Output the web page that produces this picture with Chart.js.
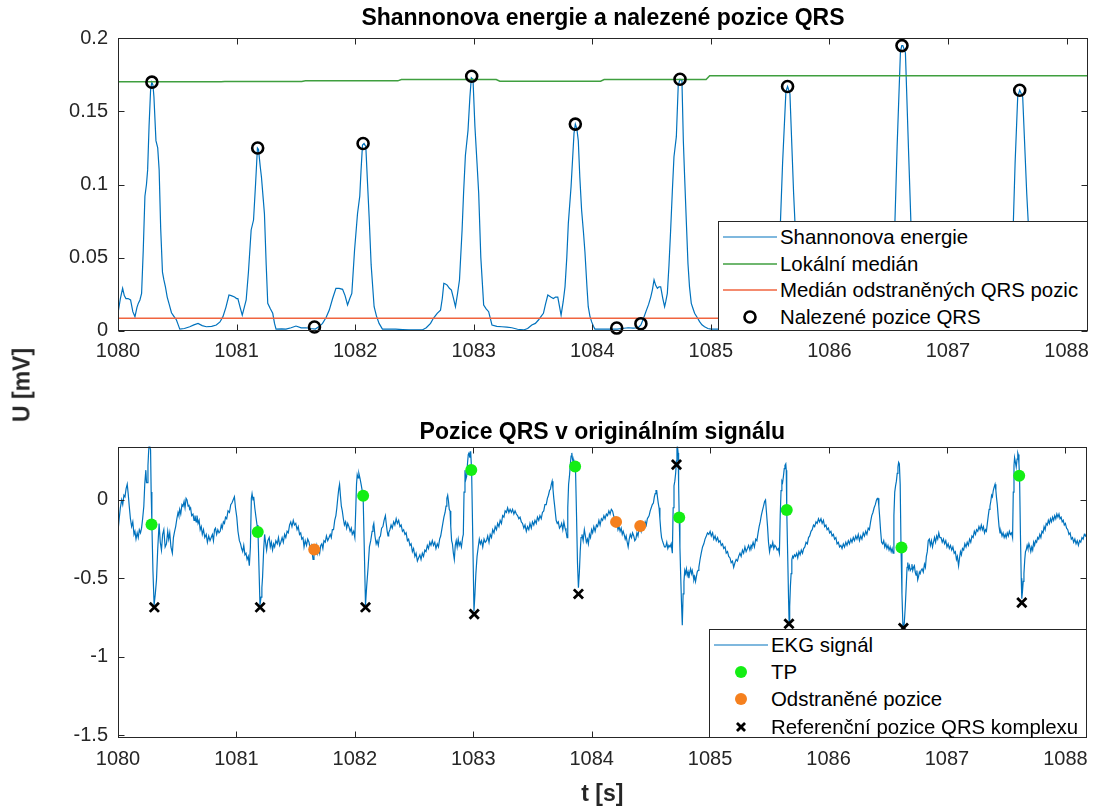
<!DOCTYPE html>
<html>
<head>
<meta charset="utf-8">
<script src="https://cdn.jsdelivr.net/npm/chart.js@4.4.1/dist/chart.umd.min.js"></script>
<style>
html,body{margin:0;padding:0;background:#fff;}
body{width:1096px;height:809px;position:relative;overflow:hidden;font-family:"Liberation Sans",Arial,sans-serif;}
#c1{position:absolute;left:0;top:0;}
#c2{position:absolute;left:0;top:375px;}
.ylab{position:absolute;left:22px;top:385px;transform:translate(-50%,-50%) rotate(-90deg);font-weight:bold;font-size:23px;color:#262626;white-space:nowrap;}
.legend{position:absolute;background:#fff;border:1px solid #262626;box-sizing:border-box;}
.legend .row{position:absolute;left:0;height:26px;width:100%;}
.legend svg{position:absolute;left:0;top:0;}
.legend span{position:absolute;left:61px;top:0;line-height:26px;font-size:20.4px;color:#000;white-space:nowrap;}
</style>
</head>
<body>
<canvas id="c1" width="1096" height="375"></canvas>
<canvas id="c2" width="1096" height="434"></canvas>
<div class="ylab">U [mV]</div>
<script>
// ---------------- DATA ----------------
const xTickValues = [1080,1081,1082,1083,1084,1085,1086,1087,1088];

// Shannon energy [time, value]
const shannonEnergy = [
[1080.000,0.012],[1080.020,0.022],[1080.039,0.029],[1080.053,0.024],[1080.067,0.022],[1080.085,0.022],[1080.106,0.021],[1080.125,0.013],[1080.143,0.0096],[1080.160,0.016],
[1080.171,0.0187],[1080.185,0.021],[1080.199,0.0255],[1080.213,0.055],[1080.227,0.092],[1080.240,0.100],[1080.250,0.110],[1080.262,0.140],[1080.275,0.165],[1080.285,0.170],
[1080.295,0.168],[1080.303,0.160],[1080.320,0.130],[1080.335,0.125],[1080.347,0.110],[1080.360,0.070],[1080.375,0.040],[1080.387,0.0347],[1080.400,0.030],[1080.415,0.023],
[1080.432,0.018],[1080.451,0.0123],[1080.470,0.010],[1080.493,0.0073],[1080.508,0.004],[1080.521,0.0011],[1080.560,0.0015],[1080.605,0.0027],[1080.640,0.004],[1080.675,0.005],
[1080.710,0.0035],[1080.745,0.0027],[1080.790,0.003],[1080.829,0.0039],[1080.860,0.006],[1080.885,0.0096],[1080.910,0.016],[1080.936,0.0244],[1080.955,0.024],[1080.983,0.023],
[1081.000,0.022],[1081.011,0.022],[1081.030,0.016],[1081.048,0.0107],[1081.065,0.016],[1081.081,0.021],[1081.100,0.040],[1081.123,0.0689],[1081.143,0.0757],[1081.160,0.100],
[1081.176,0.125],[1081.185,0.124],[1081.200,0.112],[1081.210,0.105],[1081.225,0.090],[1081.235,0.080],[1081.250,0.045],[1081.263,0.0187],[1081.285,0.015],[1081.305,0.0119],
[1081.320,0.005],[1081.333,0.0011],[1081.380,0.0012],[1081.417,0.0011],[1081.460,0.002],[1081.501,0.0032],[1081.545,0.002],[1081.585,0.002],[1081.625,0.0015],[1081.664,0.0011],
[1081.700,0.003],[1081.725,0.005],[1081.755,0.009],[1081.782,0.0141],[1081.810,0.022],[1081.838,0.029],[1081.865,0.029],[1081.894,0.0283],[1081.915,0.024],[1081.936,0.0176],
[1081.955,0.022],[1081.972,0.0255],[1081.995,0.055],[1082.020,0.080],[1082.039,0.092],[1082.050,0.110],[1082.062,0.127],[1082.075,0.128],[1082.090,0.126],[1082.105,0.100],
[1082.118,0.078],[1082.135,0.045],[1082.160,0.0164],[1082.180,0.010],[1082.202,0.005],[1082.230,0.0011],[1082.290,0.0011],[1082.342,0.0011],[1082.400,0.0008],[1082.454,0.0005],
[1082.510,0.0005],[1082.566,0.0005],[1082.600,0.002],[1082.636,0.005],[1082.660,0.0085],[1082.692,0.0119],[1082.720,0.0141],[1082.735,0.022],[1082.748,0.0324],[1082.762,0.032],
[1082.776,0.0312],[1082.795,0.029],[1082.812,0.0278],[1082.830,0.022],[1082.846,0.0164],[1082.863,0.025],[1082.880,0.0347],[1082.902,0.0689],[1082.915,0.095],[1082.930,0.120],
[1082.952,0.137],[1082.968,0.160],[1082.980,0.173],[1082.994,0.172],[1083.010,0.140],[1083.028,0.1145],[1083.042,0.094],[1083.060,0.050],[1083.084,0.0176],[1083.105,0.015],
[1083.126,0.013],[1083.154,0.0039],[1083.195,0.003],[1083.238,0.0027],[1083.280,0.0024],[1083.322,0.002],[1083.370,0.001],[1083.420,0.0005],[1083.455,0.0015],[1083.490,0.0039],
[1083.520,0.005],[1083.546,0.0073],[1083.570,0.010],[1083.588,0.0119],[1083.605,0.018],[1083.625,0.0244],[1083.650,0.023],[1083.672,0.022],[1083.690,0.023],[1083.709,0.023],
[1083.725,0.016],[1083.737,0.0107],[1083.755,0.020],[1083.770,0.030],[1083.785,0.050],[1083.798,0.0734],[1083.821,0.0985],[1083.846,0.135],[1083.857,0.1413],[1083.870,0.138],
[1083.882,0.130],[1083.895,0.105],[1083.910,0.0825],[1083.925,0.068],[1083.938,0.054],[1083.955,0.030],[1083.966,0.0164],[1083.980,0.010],[1083.994,0.0062],[1084.010,0.003],
[1084.022,0.0011],[1084.060,0.0011],[1084.106,0.0011],[1084.150,0.0011],[1084.210,0.0011],[1084.250,0.0015],[1084.303,0.002],[1084.345,0.0018],[1084.387,0.002],[1084.410,0.004],
[1084.430,0.008],[1084.457,0.0141],[1084.475,0.018],[1084.493,0.023],[1084.507,0.028],[1084.521,0.0347],[1084.535,0.031],[1084.549,0.029],[1084.563,0.030],[1084.577,0.030],
[1084.595,0.022],[1084.610,0.0164],[1084.620,0.020],[1084.633,0.0255],[1084.647,0.045],[1084.661,0.0689],[1084.675,0.095],[1084.689,0.119],[1084.709,0.1327],[1084.725,0.168],
[1084.740,0.172],[1084.756,0.1715],[1084.768,0.130],[1084.779,0.105],[1084.793,0.075],[1084.807,0.046],[1084.820,0.030],[1084.835,0.0187],[1084.850,0.015],[1084.863,0.0119],
[1084.885,0.009],[1084.905,0.0062],[1084.925,0.004],[1084.947,0.0027],[1084.975,0.0015],[1085.003,0.0011],[1085.060,0.0011],[1085.120,0.0015],[1085.180,0.0012],[1085.240,0.002],
[1085.300,0.004],[1085.350,0.008],[1085.390,0.018],[1085.420,0.026],[1085.450,0.030],[1085.480,0.024],[1085.505,0.028],[1085.530,0.020],[1085.560,0.030],[1085.585,0.070],
[1085.605,0.1145],[1085.633,0.1635],[1085.647,0.167],[1085.667,0.162],[1085.698,0.094],[1085.726,0.045],[1085.760,0.020],[1085.800,0.008],[1085.850,0.003],[1085.900,0.002],
[1085.960,0.0015],[1086.020,0.001],[1086.080,0.0015],[1086.140,0.002],[1086.200,0.002],[1086.260,0.003],[1086.320,0.006],[1086.370,0.014],[1086.410,0.024],[1086.440,0.022],
[1086.470,0.016],[1086.500,0.020],[1086.530,0.030],[1086.549,0.065],[1086.571,0.126],[1086.599,0.1908],[1086.610,0.195],[1086.619,0.195],[1086.641,0.190],[1086.669,0.119],
[1086.689,0.070],[1086.720,0.030],[1086.760,0.015],[1086.800,0.006],[1086.860,0.004],[1086.920,0.003],[1086.980,0.002],[1087.040,0.002],[1087.100,0.003],[1087.160,0.004],
[1087.220,0.006],[1087.280,0.010],[1087.330,0.016],[1087.380,0.026],[1087.420,0.030],[1087.450,0.022],[1087.490,0.018],[1087.520,0.025],[1087.546,0.060],[1087.566,0.1145],
[1087.588,0.160],[1087.605,0.1645],[1087.630,0.160],[1087.664,0.094],[1087.686,0.060],[1087.720,0.030],[1087.760,0.014],[1087.800,0.006],[1087.860,0.003],[1087.920,0.002],
[1087.980,0.002],[1088.040,0.003],[1088.100,0.004],[1088.180,0.006]
];

// Local median [time, value]
const localMedian = [
[1080.00,0.1702],[1080.87,0.1702],[1080.90,0.1705],[1081.55,0.1705],[1081.58,0.1709],[1082.36,0.1709],[1082.39,0.1718],
[1083.19,0.1718],[1083.22,0.1707],[1084.07,0.1707],[1084.10,0.1718],[1084.96,0.1718],[1084.99,0.1744],[1088.18,0.1744]
];

// Median of removed QRS positions [time, value]
const removedMedian = [[1080.00,0.0085],[1088.18,0.0085]];

// Found QRS positions (top plot circles)
const foundTime  = [1080.286,1081.178,1081.657,1082.067,1082.983,1083.857,1084.206,1084.410,1084.740,1085.647,1086.612,1087.605];
const foundValue = [0.170,0.125,0.0025,0.128,0.174,0.1413,0.0018,0.0048,0.172,0.167,0.195,0.1645];

// ECG signal [time, value]
const ekgSignal = [
[1080.000,-0.20],[1080.010,-0.12],[1080.020,-0.05],[1080.031,0.00],[1080.040,-0.03],[1080.050,0.03],[1080.059,0.02],[1080.068,0.07],[1080.078,0.10],[1080.086,0.04],
[1080.095,-0.04],[1080.105,-0.12],[1080.115,-0.17],[1080.125,-0.14],[1080.135,-0.22],[1080.143,-0.20],[1080.152,-0.25],[1080.162,-0.21],[1080.171,-0.24],[1080.180,-0.19],
[1080.190,-0.21],[1080.199,-0.18],[1080.208,-0.12],[1080.218,-0.04],[1080.226,0.10],[1080.235,0.19],[1080.241,0.11],[1080.246,0.11],[1080.253,0.22],[1080.258,0.30],
[1080.263,0.36],[1080.268,0.36],[1080.275,0.32],[1080.280,0.05],[1080.286,-0.15],[1080.295,-0.45],[1080.305,-0.67],[1080.315,-0.60],[1080.325,-0.51],[1080.335,-0.32],
[1080.347,-0.15],[1080.357,-0.27],[1080.367,-0.32],[1080.377,-0.22],[1080.387,-0.19],[1080.398,-0.30],[1080.409,-0.28],[1080.420,-0.20],[1080.428,-0.25],[1080.437,-0.21],
[1080.447,-0.30],[1080.459,-0.34],[1080.468,-0.24],[1080.478,-0.20],[1080.487,-0.17],[1080.497,-0.12],[1080.507,-0.08],[1080.514,-0.10],[1080.521,-0.06],[1080.530,-0.09],
[1080.540,-0.03],[1080.549,-0.04],[1080.558,-0.01],[1080.566,-0.05],[1080.575,0.01],[1080.583,0.00],[1080.592,-0.04],[1080.599,-0.03],[1080.605,-0.06],[1080.613,-0.05],
[1080.622,-0.10],[1080.633,-0.09],[1080.642,-0.13],[1080.650,-0.10],[1080.660,-0.14],[1080.667,-0.10],[1080.676,-0.15],[1080.685,-0.13],[1080.694,-0.19],[1080.703,-0.17],
[1080.712,-0.22],[1080.722,-0.19],[1080.733,-0.24],[1080.745,-0.22],[1080.755,-0.27],[1080.766,-0.23],[1080.777,-0.26],[1080.787,-0.24],[1080.797,-0.22],[1080.806,-0.26],
[1080.815,-0.19],[1080.823,-0.18],[1080.833,-0.22],[1080.843,-0.19],[1080.853,-0.21],[1080.863,-0.20],[1080.872,-0.16],[1080.880,-0.18],[1080.890,-0.14],[1080.899,-0.15],
[1080.908,-0.11],[1080.918,-0.12],[1080.929,-0.07],[1080.941,-0.08],[1080.952,-0.03],[1080.962,-0.02],[1080.972,0.00],[1080.983,0.02],[1080.992,-0.05],[1081.003,-0.11],
[1081.013,-0.20],[1081.025,-0.26],[1081.035,-0.28],[1081.044,-0.31],[1081.053,-0.33],[1081.062,-0.29],[1081.072,-0.35],[1081.081,-0.34],[1081.090,-0.38],[1081.100,-0.36],
[1081.109,-0.42],[1081.118,-0.30],[1081.126,0.01],[1081.132,0.04],[1081.140,0.00],[1081.146,0.02],[1081.155,-0.05],[1081.165,-0.11],[1081.174,-0.16],[1081.182,-0.20],
[1081.190,-0.42],[1081.199,-0.67],[1081.208,-0.62],[1081.215,-0.56],[1081.221,-0.49],[1081.230,-0.32],[1081.238,-0.22],[1081.246,-0.27],[1081.255,-0.32],[1081.265,-0.26],
[1081.277,-0.24],[1081.286,-0.30],[1081.295,-0.27],[1081.305,-0.32],[1081.314,-0.28],[1081.323,-0.30],[1081.333,-0.26],[1081.345,-0.28],[1081.355,-0.24],[1081.365,-0.29],
[1081.375,-0.27],[1081.386,-0.24],[1081.396,-0.27],[1081.407,-0.22],[1081.417,-0.24],[1081.428,-0.20],[1081.438,-0.21],[1081.449,-0.16],[1081.459,-0.14],[1081.469,-0.17],
[1081.480,-0.13],[1081.490,-0.16],[1081.501,-0.15],[1081.512,-0.19],[1081.522,-0.17],[1081.533,-0.22],[1081.543,-0.21],[1081.552,-0.25],[1081.562,-0.24],[1081.571,-0.30],
[1081.581,-0.26],[1081.592,-0.29],[1081.602,-0.25],[1081.613,-0.27],[1081.622,-0.31],[1081.632,-0.29],[1081.640,-0.34],[1081.647,-0.38],[1081.655,-0.33],[1081.662,-0.30],
[1081.669,-0.32],[1081.678,-0.29],[1081.686,-0.34],[1081.695,-0.31],[1081.703,-0.34],[1081.712,-0.29],[1081.721,-0.28],[1081.730,-0.31],[1081.739,-0.26],[1081.750,-0.27],
[1081.760,-0.23],[1081.771,-0.26],[1081.782,-0.24],[1081.792,-0.22],[1081.801,-0.24],[1081.810,-0.19],[1081.820,-0.19],[1081.830,-0.13],[1081.840,-0.10],[1081.848,-0.05],
[1081.857,0.02],[1081.864,0.07],[1081.871,0.10],[1081.878,0.03],[1081.886,-0.04],[1081.894,-0.07],[1081.903,-0.12],[1081.912,-0.16],[1081.922,-0.14],[1081.931,-0.18],
[1081.940,-0.15],[1081.950,-0.17],[1081.960,-0.20],[1081.970,-0.18],[1081.978,-0.22],[1081.990,-0.20],[1082.000,-0.24],[1082.008,-0.05],[1082.014,0.10],[1082.020,0.16],
[1082.027,0.14],[1082.034,0.17],[1082.043,0.14],[1082.053,0.10],[1082.062,0.06],[1082.070,0.02],[1082.080,-0.32],[1082.090,-0.67],[1082.100,-0.55],[1082.112,-0.43],
[1082.123,-0.30],[1082.134,-0.26],[1082.146,-0.20],[1082.153,-0.17],[1082.160,-0.15],[1082.170,-0.23],[1082.180,-0.28],[1082.188,-0.26],[1082.198,-0.29],[1082.207,-0.24],
[1082.216,-0.23],[1082.226,-0.18],[1082.237,-0.17],[1082.247,-0.13],[1082.258,-0.10],[1082.265,-0.15],[1082.273,-0.20],[1082.280,-0.23],[1082.286,-0.21],[1082.296,-0.19],
[1082.306,-0.16],[1082.316,-0.18],[1082.328,-0.14],[1082.338,-0.16],[1082.349,-0.12],[1082.359,-0.15],[1082.370,-0.13],[1082.381,-0.17],[1082.391,-0.16],[1082.402,-0.20],
[1082.412,-0.19],[1082.423,-0.22],[1082.433,-0.21],[1082.444,-0.26],[1082.454,-0.25],[1082.465,-0.29],[1082.475,-0.28],[1082.486,-0.33],[1082.496,-0.31],[1082.507,-0.36],
[1082.517,-0.34],[1082.528,-0.39],[1082.538,-0.37],[1082.549,-0.35],[1082.559,-0.38],[1082.570,-0.34],[1082.580,-0.36],[1082.591,-0.32],[1082.601,-0.33],[1082.612,-0.29],
[1082.622,-0.31],[1082.633,-0.27],[1082.643,-0.29],[1082.654,-0.26],[1082.664,-0.29],[1082.675,-0.27],[1082.685,-0.31],[1082.696,-0.28],[1082.706,-0.30],[1082.716,-0.25],
[1082.725,-0.23],[1082.734,-0.19],[1082.743,-0.15],[1082.752,-0.11],[1082.762,-0.08],[1082.770,-0.04],[1082.777,0.01],[1082.784,0.03],[1082.791,-0.01],[1082.797,-0.06],
[1082.804,-0.07],[1082.810,-0.17],[1082.817,-0.26],[1082.824,-0.28],[1082.832,-0.34],[1082.840,-0.38],[1082.848,-0.29],[1082.856,-0.26],[1082.864,-0.30],[1082.873,-0.25],
[1082.881,-0.29],[1082.890,-0.27],[1082.900,-0.30],[1082.910,-0.24],[1082.916,-0.22],[1082.922,0.05],[1082.930,0.19],[1082.937,0.13],[1082.944,0.15],[1082.952,0.24],
[1082.958,0.29],[1082.964,0.30],[1082.971,0.27],[1082.978,0.31],[1082.986,0.19],[1082.996,-0.25],[1083.006,-0.71],[1083.014,-0.60],[1083.022,-0.47],[1083.032,-0.36],
[1083.042,-0.30],[1083.051,-0.25],[1083.060,-0.28],[1083.070,-0.26],[1083.080,-0.30],[1083.091,-0.25],[1083.101,-0.27],[1083.112,-0.26],[1083.122,-0.23],[1083.133,-0.27],
[1083.143,-0.22],[1083.154,-0.24],[1083.164,-0.19],[1083.175,-0.21],[1083.185,-0.17],[1083.196,-0.19],[1083.206,-0.15],[1083.217,-0.17],[1083.227,-0.13],[1083.238,-0.15],
[1083.248,-0.10],[1083.259,-0.11],[1083.269,-0.07],[1083.280,-0.08],[1083.290,-0.05],[1083.301,-0.08],[1083.311,-0.06],[1083.322,-0.08],[1083.332,-0.06],[1083.343,-0.09],
[1083.353,-0.07],[1083.364,-0.09],[1083.374,-0.10],[1083.385,-0.12],[1083.395,-0.11],[1083.406,-0.14],[1083.416,-0.15],[1083.427,-0.18],[1083.437,-0.16],[1083.448,-0.20],
[1083.458,-0.17],[1083.469,-0.19],[1083.479,-0.15],[1083.490,-0.18],[1083.500,-0.14],[1083.511,-0.16],[1083.521,-0.13],[1083.532,-0.15],[1083.542,-0.11],[1083.553,-0.13],
[1083.563,-0.10],[1083.574,-0.12],[1083.584,-0.08],[1083.595,-0.07],[1083.605,-0.03],[1083.616,-0.03],[1083.626,0.01],[1083.635,0.03],[1083.644,0.06],[1083.652,0.07],
[1083.659,0.10],[1083.666,0.12],[1083.673,0.07],[1083.680,0.01],[1083.686,-0.03],[1083.693,-0.08],[1083.700,-0.13],[1083.709,-0.15],[1083.718,-0.14],[1083.728,-0.18],
[1083.737,-0.17],[1083.746,-0.15],[1083.756,-0.19],[1083.765,-0.14],[1083.775,-0.18],[1083.783,-0.20],[1083.792,-0.24],[1083.798,-0.05],[1083.805,0.10],[1083.812,0.15],
[1083.820,0.23],[1083.826,0.28],[1083.832,0.30],[1083.838,0.26],[1083.844,0.24],[1083.850,0.25],[1083.856,0.23],[1083.863,0.21],[1083.872,-0.10],[1083.880,-0.40],
[1083.888,-0.56],[1083.896,-0.46],[1083.903,-0.33],[1083.910,-0.24],[1083.918,-0.22],[1083.928,-0.26],[1083.938,-0.19],[1083.947,-0.23],[1083.955,-0.27],[1083.964,-0.25],
[1083.972,-0.28],[1083.981,-0.22],[1083.990,-0.24],[1083.999,-0.19],[1084.008,-0.21],[1084.018,-0.17],[1084.029,-0.20],[1084.040,-0.16],[1084.050,-0.17],[1084.061,-0.13],
[1084.071,-0.16],[1084.082,-0.12],[1084.092,-0.13],[1084.103,-0.10],[1084.113,-0.12],[1084.124,-0.09],[1084.134,-0.10],[1084.145,-0.07],[1084.155,-0.09],[1084.166,-0.06],
[1084.176,-0.07],[1084.185,-0.10],[1084.194,-0.12],[1084.204,-0.14],[1084.213,-0.15],[1084.222,-0.19],[1084.231,-0.17],[1084.240,-0.20],[1084.249,-0.18],[1084.258,-0.22],
[1084.266,-0.20],[1084.274,-0.22],[1084.283,-0.25],[1084.291,-0.23],[1084.300,-0.27],[1084.308,-0.30],[1084.317,-0.25],[1084.326,-0.22],[1084.336,-0.24],[1084.345,-0.21],
[1084.355,-0.23],[1084.364,-0.26],[1084.373,-0.25],[1084.382,-0.21],[1084.391,-0.23],[1084.400,-0.18],[1084.409,-0.17],[1084.418,-0.20],[1084.426,-0.17],[1084.434,-0.19],
[1084.443,-0.18],[1084.452,-0.14],[1084.461,-0.16],[1084.470,-0.12],[1084.478,-0.11],[1084.485,-0.10],[1084.494,-0.07],[1084.503,-0.05],[1084.512,-0.03],[1084.521,-0.02],
[1084.529,0.02],[1084.536,0.04],[1084.543,0.06],[1084.549,0.06],[1084.555,0.02],[1084.562,-0.02],[1084.569,-0.05],[1084.576,-0.12],[1084.584,-0.20],[1084.590,-0.24],
[1084.597,-0.26],[1084.606,-0.28],[1084.615,-0.30],[1084.625,-0.30],[1084.634,-0.27],[1084.643,-0.31],[1084.652,-0.29],[1084.661,-0.30],[1084.671,-0.28],[1084.681,-0.34],
[1084.688,-0.05],[1084.695,0.09],[1084.702,0.12],[1084.709,0.17],[1084.716,0.25],[1084.720,0.33],[1084.723,0.34],[1084.726,0.33],[1084.730,0.30],[1084.734,0.10],
[1084.739,-0.11],[1084.745,-0.30],[1084.751,-0.47],[1084.758,-0.65],[1084.765,-0.80],[1084.772,-0.60],[1084.779,-0.52],[1084.786,-0.45],[1084.793,-0.47],[1084.800,-0.44],
[1084.807,-0.48],[1084.814,-0.46],[1084.821,-0.50],[1084.828,-0.46],[1084.835,-0.44],[1084.842,-0.47],[1084.849,-0.45],[1084.856,-0.48],[1084.863,-0.51],[1084.870,-0.49],
[1084.877,-0.52],[1084.884,-0.49],[1084.891,-0.46],[1084.898,-0.45],[1084.905,-0.43],[1084.915,-0.38],[1084.925,-0.34],[1084.936,-0.30],[1084.947,-0.28],[1084.957,-0.25],
[1084.968,-0.23],[1084.978,-0.21],[1084.989,-0.22],[1085.000,-0.20],[1085.010,-0.23],[1085.021,-0.21],[1085.031,-0.25],[1085.042,-0.23],[1085.052,-0.26],[1085.063,-0.24],
[1085.073,-0.27],[1085.084,-0.26],[1085.094,-0.29],[1085.105,-0.28],[1085.115,-0.31],[1085.126,-0.30],[1085.136,-0.34],[1085.147,-0.33],[1085.157,-0.36],[1085.168,-0.37],
[1085.178,-0.40],[1085.189,-0.39],[1085.199,-0.43],[1085.210,-0.40],[1085.220,-0.38],[1085.231,-0.39],[1085.241,-0.36],[1085.252,-0.34],[1085.262,-0.36],[1085.273,-0.32],
[1085.283,-0.34],[1085.294,-0.30],[1085.304,-0.33],[1085.315,-0.31],[1085.325,-0.29],[1085.336,-0.32],[1085.346,-0.29],[1085.353,-0.30],[1085.363,-0.27],[1085.374,-0.30],
[1085.385,-0.25],[1085.395,-0.26],[1085.405,-0.21],[1085.414,-0.17],[1085.423,-0.14],[1085.432,-0.10],[1085.441,-0.07],[1085.451,-0.04],[1085.460,-0.01],[1085.468,0.00],
[1085.476,-0.08],[1085.485,-0.17],[1085.493,-0.27],[1085.502,-0.33],[1085.511,-0.29],[1085.520,-0.30],[1085.529,-0.27],[1085.538,-0.31],[1085.547,-0.29],[1085.557,-0.30],
[1085.566,-0.32],[1085.576,-0.31],[1085.585,-0.34],[1085.592,-0.10],[1085.599,0.06],[1085.606,0.12],[1085.612,0.11],[1085.619,0.15],[1085.626,0.20],[1085.632,0.22],
[1085.639,0.23],[1085.643,0.19],[1085.647,-0.06],[1085.655,-0.35],[1085.662,-0.62],[1085.667,-0.78],[1085.672,-0.68],[1085.678,-0.55],[1085.684,-0.47],[1085.690,-0.38],
[1085.697,-0.36],[1085.703,-0.37],[1085.712,-0.35],[1085.721,-0.36],[1085.731,-0.34],[1085.740,-0.37],[1085.750,-0.33],[1085.760,-0.35],[1085.770,-0.32],[1085.780,-0.34],
[1085.790,-0.31],[1085.800,-0.30],[1085.810,-0.27],[1085.821,-0.28],[1085.831,-0.24],[1085.841,-0.23],[1085.852,-0.20],[1085.862,-0.19],[1085.873,-0.16],[1085.883,-0.17],
[1085.894,-0.14],[1085.904,-0.15],[1085.915,-0.12],[1085.925,-0.14],[1085.936,-0.12],[1085.946,-0.15],[1085.957,-0.13],[1085.967,-0.17],[1085.978,-0.16],[1085.988,-0.19],
[1085.999,-0.18],[1086.009,-0.21],[1086.020,-0.20],[1086.030,-0.23],[1086.041,-0.22],[1086.051,-0.25],[1086.062,-0.24],[1086.072,-0.28],[1086.083,-0.27],[1086.093,-0.30],
[1086.104,-0.29],[1086.114,-0.31],[1086.125,-0.28],[1086.135,-0.30],[1086.146,-0.27],[1086.156,-0.29],[1086.167,-0.26],[1086.177,-0.28],[1086.188,-0.25],[1086.198,-0.27],
[1086.209,-0.24],[1086.219,-0.26],[1086.230,-0.23],[1086.240,-0.25],[1086.251,-0.22],[1086.261,-0.26],[1086.272,-0.23],[1086.282,-0.25],[1086.293,-0.21],[1086.303,-0.23],
[1086.314,-0.20],[1086.324,-0.22],[1086.335,-0.18],[1086.345,-0.19],[1086.355,-0.14],[1086.365,-0.10],[1086.375,-0.08],[1086.385,-0.05],[1086.395,-0.03],[1086.405,0.00],
[1086.412,0.01],[1086.418,0.01],[1086.425,-0.04],[1086.432,-0.11],[1086.440,-0.20],[1086.448,-0.27],[1086.457,-0.28],[1086.466,-0.26],[1086.475,-0.30],[1086.484,-0.28],
[1086.493,-0.31],[1086.502,-0.29],[1086.511,-0.32],[1086.520,-0.30],[1086.529,-0.33],[1086.537,-0.31],[1086.545,-0.34],[1086.552,-0.10],[1086.559,0.05],[1086.566,0.09],
[1086.573,0.12],[1086.580,0.17],[1086.586,0.21],[1086.592,0.24],[1086.598,0.23],[1086.605,0.10],[1086.612,-0.30],[1086.620,-0.60],[1086.628,-0.80],[1086.633,-0.83],
[1086.640,-0.78],[1086.648,-0.68],[1086.656,-0.55],[1086.663,-0.43],[1086.669,-0.40],[1086.676,-0.44],[1086.683,-0.42],[1086.690,-0.45],[1086.697,-0.44],[1086.704,-0.41],
[1086.711,-0.45],[1086.718,-0.43],[1086.725,-0.42],[1086.732,-0.46],[1086.739,-0.48],[1086.746,-0.45],[1086.753,-0.51],[1086.760,-0.49],[1086.767,-0.46],[1086.774,-0.47],
[1086.781,-0.45],[1086.790,-0.44],[1086.800,-0.46],[1086.810,-0.41],[1086.818,-0.43],[1086.826,-0.36],[1086.834,-0.33],[1086.842,-0.26],[1086.851,-0.25],[1086.860,-0.29],
[1086.869,-0.26],[1086.878,-0.30],[1086.886,-0.27],[1086.895,-0.24],[1086.904,-0.27],[1086.913,-0.23],[1086.922,-0.25],[1086.931,-0.21],[1086.940,-0.24],[1086.950,-0.24],
[1086.960,-0.27],[1086.970,-0.25],[1086.980,-0.28],[1086.990,-0.26],[1087.000,-0.30],[1087.010,-0.28],[1087.020,-0.31],[1087.030,-0.29],[1087.040,-0.32],[1087.050,-0.30],
[1087.061,-0.34],[1087.071,-0.33],[1087.080,-0.38],[1087.088,-0.36],[1087.098,-0.42],[1087.106,-0.37],[1087.114,-0.33],[1087.122,-0.35],[1087.131,-0.31],[1087.141,-0.32],
[1087.151,-0.28],[1087.161,-0.30],[1087.171,-0.27],[1087.181,-0.29],[1087.191,-0.25],[1087.201,-0.27],[1087.211,-0.23],[1087.221,-0.24],[1087.231,-0.20],[1087.241,-0.22],
[1087.250,-0.19],[1087.260,-0.20],[1087.270,-0.17],[1087.280,-0.19],[1087.290,-0.16],[1087.299,-0.19],[1087.308,-0.17],[1087.317,-0.21],[1087.325,-0.19],[1087.333,-0.20],
[1087.341,-0.15],[1087.349,-0.10],[1087.356,-0.06],[1087.363,-0.04],[1087.370,-0.01],[1087.377,0.03],[1087.384,0.02],[1087.391,0.06],[1087.398,0.08],[1087.406,0.10],
[1087.413,0.06],[1087.419,0.01],[1087.425,-0.03],[1087.432,-0.10],[1087.440,-0.17],[1087.448,-0.21],[1087.456,-0.20],[1087.465,-0.23],[1087.474,-0.21],[1087.483,-0.24],
[1087.492,-0.22],[1087.500,-0.24],[1087.509,-0.21],[1087.518,-0.23],[1087.527,-0.20],[1087.536,-0.22],[1087.546,-0.21],[1087.554,-0.24],[1087.560,0.05],[1087.566,0.22],
[1087.571,0.27],[1087.578,0.24],[1087.585,0.21],[1087.592,0.26],[1087.598,0.30],[1087.602,0.29],[1087.608,0.23],[1087.613,0.15],[1087.620,-0.20],[1087.627,-0.50],
[1087.632,-0.63],[1087.638,-0.58],[1087.644,-0.52],[1087.650,-0.47],[1087.657,-0.38],[1087.663,-0.33],[1087.669,-0.32],[1087.677,-0.29],[1087.684,-0.31],[1087.692,-0.28],
[1087.700,-0.30],[1087.708,-0.33],[1087.716,-0.30],[1087.724,-0.32],[1087.732,-0.27],[1087.740,-0.29],[1087.748,-0.26],[1087.757,-0.27],[1087.766,-0.24],[1087.775,-0.25],
[1087.784,-0.22],[1087.793,-0.24],[1087.802,-0.20],[1087.811,-0.21],[1087.820,-0.17],[1087.829,-0.19],[1087.838,-0.15],[1087.847,-0.16],[1087.856,-0.13],[1087.865,-0.15],
[1087.874,-0.12],[1087.883,-0.14],[1087.892,-0.11],[1087.901,-0.13],[1087.910,-0.10],[1087.919,-0.12],[1087.928,-0.09],[1087.937,-0.11],[1087.946,-0.09],[1087.955,-0.12],
[1087.964,-0.11],[1087.973,-0.14],[1087.982,-0.13],[1087.991,-0.16],[1088.000,-0.15],[1088.010,-0.18],[1088.020,-0.19],[1088.030,-0.22],[1088.040,-0.21],[1088.050,-0.25],
[1088.060,-0.24],[1088.070,-0.27],[1088.080,-0.25],[1088.090,-0.28],[1088.100,-0.26],[1088.110,-0.29],[1088.120,-0.26],[1088.130,-0.27],[1088.140,-0.24],[1088.150,-0.25],
[1088.160,-0.22],[1088.170,-0.23],[1088.180,-0.21]
];

// True positives (green)
const tpTime  = [1080.283,1081.180,1082.070,1082.983,1083.860,1084.739,1085.647,1086.616,1087.610];
const tpValue = [-0.157,-0.205,0.026,0.191,0.213,-0.112,-0.064,-0.303,0.155];

// Removed positions (orange)
const removedTime  = [1081.657,1084.206,1084.410];
const removedValue = [-0.316,-0.140,-0.167];

// Reference QRS positions (black x)
const refTime  = [1080.307,1081.200,1082.090,1083.008,1083.888,1084.716,1085.666,1086.632,1087.632];
const refValue = [-0.685,-0.685,-0.685,-0.729,-0.600,0.225,-0.790,-0.818,-0.655];

// ---------------- CHARTS ----------------
Chart.defaults.font.family = '"Liberation Sans", Arial, Helvetica, sans-serif';
Chart.defaults.color = '#262626';

const pairs = arr => arr.map(p => ({x: p[0], y: p[1]}));
const zipXY = (xs, ys) => xs.map((x, i) => ({x, y: ys[i]}));

const matlabAxes = {
  id: 'matlabAxes',
  afterDraw(chart) {
    const {ctx, chartArea: a, scales: {x, y}} = chart;
    ctx.save();
    ctx.strokeStyle = '#262626';
    ctx.lineWidth = 1;
    const L = Math.round(a.left) + 0.5, R = Math.round(a.right) - 0.5;
    const T = Math.round(a.top) + 0.5, B = Math.round(a.bottom) - 0.5;
    ctx.strokeRect(L, T, R - L, B - T);
    const len = 6;
    ctx.beginPath();
    x.ticks.forEach(t => {
      const p = Math.round(x.getPixelForValue(t.value)) + 0.5;
      ctx.moveTo(p, B); ctx.lineTo(p, B - len);
      ctx.moveTo(p, T); ctx.lineTo(p, T + len);
    });
    y.ticks.forEach(t => {
      const p = Math.round(y.getPixelForValue(t.value)) + 0.5;
      ctx.moveTo(L, p); ctx.lineTo(L + len, p);
      ctx.moveTo(R, p); ctx.lineTo(R - len, p);
    });
    ctx.stroke();
    ctx.restore();
  }
};

const tickFont = {size: 20};
const fmt = v => String(Math.round(v * 1000) / 1000);

function xScale(height, title) {
  return {
    type: 'linear', min: 1080, max: 1088.18,
    afterFit: s => { s.height = height; s.paddingLeft = 0; s.paddingRight = 0; },
    afterBuildTicks: s => { s.ticks = xTickValues.map(v => ({value: v})); },
    grid: {display: false, drawTicks: false},
    border: {display: false},
    ticks: {font: tickFont, padding: 9, color: '#262626', callback: fmt, maxRotation: 0, autoSkip: false},
    title: title ? {display: true, text: title, font: {size: 23, weight: 'bold'}, color: '#262626', padding: {top: 0, bottom: 0.5}} : {display: false}
  };
}
function yScale(min, max, step) {
  return {
    type: 'linear', min, max,
    afterFit: s => { s.width = 118; s.paddingTop = 0; s.paddingBottom = 0; },
    grid: {display: false, drawTicks: false},
    border: {display: false},
    ticks: {font: tickFont, padding: 10, stepSize: step, includeBounds: false, color: '#262626', callback: fmt}
  };
}

const BLUE = '#0072BD';

const chart1 = new Chart(document.getElementById('c1'), {
  type: 'scatter',
  data: {
    datasets: [
      {label: 'Shannonova energie', data: pairs(shannonEnergy), showLine: true, borderColor: BLUE, borderWidth: 1.2, pointRadius: 0, order: 3},
      {label: 'Lokální medián', data: pairs(localMedian), showLine: true, borderColor: '#3f9f3f', borderWidth: 1.5, pointRadius: 0, order: 2},
      {label: 'Medián odstraněných QRS pozic', data: pairs(removedMedian), showLine: true, borderColor: '#f0643f', borderWidth: 1.3, pointRadius: 0, order: 1},
      {label: 'Nalezené pozice QRS', data: zipXY(foundTime, foundValue), showLine: false, pointStyle: 'circle', pointRadius: 5.5, pointBorderWidth: 2.6, pointBorderColor: '#000', pointBackgroundColor: 'rgba(0,0,0,0)', clip: false, order: 0}
    ]
  },
  options: {
    responsive: false, animation: false, events: [],
    layout: {padding: {left: 0, right: 3.6, top: 0, bottom: 0}},
    plugins: {
      legend: {display: false}, tooltip: {enabled: false},
      title: {display: true, fullSize: false, text: 'Shannonova energie a nalezené pozice QRS', color: '#000', font: {size: 23, weight: 'bold'}, padding: {top: 5, bottom: 5.7}}
    },
    scales: {x: xScale(44.3, null), y: yScale(0, 0.2, 0.05)}
  },
  plugins: [matlabAxes]
});

const chart2 = new Chart(document.getElementById('c2'), {
  type: 'scatter',
  data: {
    datasets: [
      {label: 'EKG signál', data: pairs(ekgSignal), showLine: true, borderColor: BLUE, borderWidth: 1.2, pointRadius: 0, order: 3},
      {label: 'TP', data: zipXY(tpTime, tpValue), showLine: false, pointStyle: 'circle', pointRadius: 6, pointBorderWidth: 0, pointBackgroundColor: '#14ee14', pointBorderColor: '#14ee14', clip: false, order: 2},
      {label: 'Odstraněné pozice', data: zipXY(removedTime, removedValue), showLine: false, pointStyle: 'circle', pointRadius: 6, pointBorderWidth: 0, pointBackgroundColor: '#f5801e', pointBorderColor: '#f5801e', clip: false, order: 1},
      {label: 'Referenční pozice QRS komplexu', data: zipXY(refTime, refValue), showLine: false, pointStyle: 'crossRot', pointRadius: 6.5, pointBorderWidth: 2.8, pointBorderColor: '#000', pointBackgroundColor: '#000', clip: false, order: 0}
    ]
  },
  options: {
    responsive: false, animation: false, events: [],
    layout: {padding: {left: 0, right: 3.6, top: 33, bottom: 0}},
    plugins: {
      legend: {display: false}, tooltip: {enabled: false},
      title: {display: true, fullSize: false, text: 'Pozice QRS v originálním signálu', color: '#000', font: {size: 23, weight: 'bold'}, padding: {top: 10.4, bottom: 0.5}}
    },
    scales: {x: xScale(70.7, 't [s]'), y: yScale(-1.521, 0.341, 0.5)}
  },
  plugins: [matlabAxes]
});

// ---------------- HTML LEGENDS (in-axes, MATLAB style) ----------------
function buildLegend(chart, box) {
  const svgNS = 'http://www.w3.org/2000/svg';
  const el = document.createElement('div');
  el.className = 'legend';
  Object.assign(el.style, {left: box.left + 'px', top: box.top + 'px', width: box.width + 'px', height: box.height + 'px'});
  chart.data.datasets.forEach((ds, i) => {
    const row = document.createElement('div');
    row.className = 'row';
    row.style.top = (box.firstRow + i * box.pitch - 13) + 'px';
    const svg = document.createElementNS(svgNS, 'svg');
    svg.setAttribute('width', '62'); svg.setAttribute('height', '26');
    const mk = (tag, attrs) => { const e = document.createElementNS(svgNS, tag); for (const k in attrs) e.setAttribute(k, attrs[k]); svg.appendChild(e); };
    const cx = 31, cy = 13;
    if (ds.showLine) {
      mk('line', {x1: 4, y1: cy, x2: 58, y2: cy, stroke: ds.borderColor, 'stroke-width': ds.borderWidth});
    } else if (ds.pointStyle === 'crossRot') {
      const o = ds.pointRadius * 0.62;
      mk('line', {x1: cx - o, y1: cy - o, x2: cx + o, y2: cy + o, stroke: ds.pointBorderColor, 'stroke-width': ds.pointBorderWidth});
      mk('line', {x1: cx - o, y1: cy + o, x2: cx + o, y2: cy - o, stroke: ds.pointBorderColor, 'stroke-width': ds.pointBorderWidth});
    } else if (ds.pointBorderWidth > 0) {
      mk('circle', {cx, cy, r: ds.pointRadius, fill: 'none', stroke: ds.pointBorderColor, 'stroke-width': ds.pointBorderWidth});
    } else {
      mk('circle', {cx, cy, r: ds.pointRadius, fill: ds.pointBackgroundColor});
    }
    const span = document.createElement('span');
    span.textContent = ds.label;
    row.appendChild(svg); row.appendChild(span);
    el.appendChild(row);
  });
  document.body.appendChild(el);
}
const a1 = chart1.chartArea, a2 = chart2.chartArea;
buildLegend(chart1, {left: 718, top: 220.5, width: Math.round(a1.right) - 718, height: 331 - 220.5, firstRow: 15.5, pitch: 26.7});
buildLegend(chart2, {left: 709, top: 629, width: Math.round(a2.right) - 709, height: 375 + Math.round(a2.bottom) - 629, firstRow: 15, pitch: 27.2});
</script>
</body>
</html>
